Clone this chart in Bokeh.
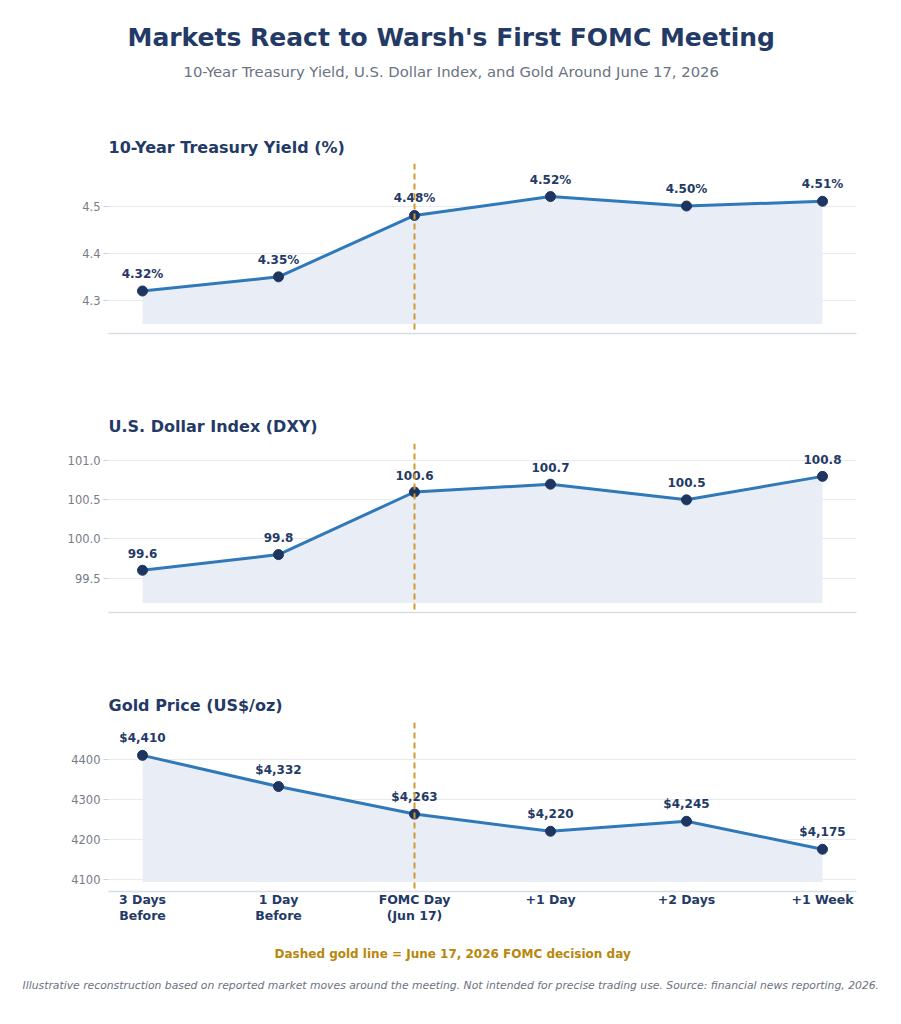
from bokeh.plotting import figure
from bokeh.models import ColumnDataSource, Span, Title, FixedTicker, NumeralTickFormatter, Range1d
from bokeh.layouts import column
from bokeh.embed import file_html
from bokeh.resources import INLINE

categories = ["3 Days\nBefore", "1 Day\nBefore", "FOMC Day\n(Jun 17)", "+1 Day", "+2 Days", "+1 Week"]
fomc_index = 2
yield_values = [4.32, 4.35, 4.48, 4.52, 4.50, 4.51]
yield_labels = ["4.32%", "4.35%", "4.48%", "4.52%", "4.50%", "4.51%"]
dxy_values = [99.6, 99.8, 100.6, 100.7, 100.5, 100.8]
dxy_labels = ["99.6", "99.8", "100.6", "100.7", "100.5", "100.8"]
gold_values = [4410, 4332, 4263, 4220, 4245, 4175]
gold_labels = ["$4,410", "$4,332", "$4,263", "$4,220", "$4,245", "$4,175"]
yield_ticks = [4.3, 4.4, 4.5]
dxy_ticks = [99.5, 100.0, 100.5, 101.0]
gold_ticks = [4100, 4200, 4300, 4400]

FONT = "DejaVu Sans"
NAVY = "#243a66"
LINE = "#2f78b9"
DOT = "#1e3560"
GRAY = "#6b7280"
TICKGRAY = "#777c87"
GOLD = "#cf9a32"

xs = list(range(len(categories)))


def spacer(size):
    return Title(text="\u00a0", text_font_size="1px", standoff=size)


def panel(title, values, labels, ticks, fmt, top, bottom, height, show_x, title_standoff=15):
    lo, hi = min(values), max(values)
    r = hi - lo
    base = lo - 0.35 * r
    p = figure(frame_width=748, frame_height=height, output_backend="svg", toolbar_location=None,
               x_range=Range1d(-0.25, len(categories) - 0.75),
               y_range=Range1d(lo - 0.45 * r, hi + 0.35 * r),
               min_border_left=108, min_border_right=45,
               min_border_top=top, min_border_bottom=bottom)
    p.outline_line_color = None
    p.background_fill_color = "white"
    p.border_fill_color = "white"
    if title is not None:
        p.title.text = title
        p.title.text_font = FONT
        p.title.text_font_size = "16px"
        p.title.text_font_style = "bold"
        p.title.text_color = NAVY
        p.title.standoff = title_standoff
    src = ColumnDataSource(dict(x=xs, y=values, base=[base] * len(xs), lab=labels))
    p.varea(x="x", y1="base", y2="y", source=src, fill_color="#e9eef6")
    p.line(x="x", y="y", source=src, line_color=LINE, line_width=3)
    p.text(x="x", y="y", text="lab", source=src, y_offset=-17, text_align="center",
           text_baseline="middle", text_font_size="12px", text_font_style="bold",
           text_color=NAVY, text_font={"value": FONT})
    p.add_layout(Span(location=fomc_index, dimension="height", line_color=GOLD,
                      line_width=2, line_dash="6 4"))
    p.scatter(x="x", y="y", source=src, size=10, fill_color=DOT, line_color=DOT)
    p.xgrid.visible = False
    p.ygrid.grid_line_color = "#e8eaee"
    p.yaxis.ticker = FixedTicker(ticks=ticks)
    p.yaxis.formatter = NumeralTickFormatter(format=fmt)
    p.yaxis.axis_line_color = None
    p.yaxis.minor_tick_line_color = None
    p.yaxis.major_tick_in = 0
    p.yaxis.major_tick_out = 5
    p.yaxis.major_tick_line_color = "#cfd3d9"
    p.yaxis.major_label_standoff = 3
    p.yaxis.major_label_text_font = FONT
    p.yaxis.major_label_text_font_size = "11.5px"
    p.yaxis.major_label_text_color = TICKGRAY
    p.xaxis.ticker = FixedTicker(ticks=xs)
    p.xaxis.axis_line_color = "#d9dde3"
    p.xaxis.axis_line_width = 1.5
    p.xaxis.major_tick_line_color = None
    p.xaxis.major_tick_in = 0
    p.xaxis.major_tick_out = 0
    p.xaxis.minor_tick_line_color = None
    if show_x:
        p.xaxis.major_label_overrides = {i: c for i, c in zip(xs, categories)}
        p.xaxis.major_label_text_font = FONT
        p.xaxis.major_label_text_font_size = "12.5px"
        p.xaxis.major_label_text_font_style = "bold"
        p.xaxis.major_label_text_color = NAVY
        p.xaxis.major_label_text_line_height = 1.1
        p.xaxis.major_label_standoff = 0
    else:
        p.xaxis.major_label_text_font_size = "0px"
        p.xaxis.major_label_text_color = None
    return p


# Panel 1: figure title holds the main heading (outermost), then subtitle, spacer, panel title
p1 = panel(None, yield_values, yield_labels, yield_ticks, "0.0", 163, 50, 170, False)
p1.title.text = "Markets React to Warsh's First FOMC Meeting"
p1.title.align = "left"
p1.title.offset = 19
p1.title.text_font = FONT
p1.title.text_font_size = "25px"
p1.title.text_font_style = "bold"
p1.title.text_color = NAVY
p1.title.standoff = 18
ptitle = Title(text="10-Year Treasury Yield (%)", align="left", text_font=FONT,
               text_font_size="16px", text_font_style="bold", text_color=NAVY, standoff=13)
sub = Title(text="10-Year Treasury Yield, U.S. Dollar Index, and Gold Around June 17, 2026",
            align="left", offset=75, text_font=FONT, text_font_size="14.8px",
            text_font_style="normal", text_color=GRAY, standoff=0)
p1.add_layout(ptitle, "above")
p1.add_layout(spacer(47), "above")
p1.add_layout(sub, "above")

p2 = panel("U.S. Dollar Index (DXY)", dxy_values, dxy_labels, dxy_ticks, "0.0", 60, 50, 169, False)
p3 = panel("Gold Price (US$/oz)", gold_values, gold_labels, gold_ticks, "0", 60, 133, 169, True)
note = Title(text="Dashed gold line = June 17, 2026 FOMC decision day", align="left", offset=166,
             text_font=FONT, text_font_size="12px", text_font_style="bold",
             text_color="#b8860b", standoff=0)
foot = Title(text="Illustrative reconstruction based on reported market moves around the meeting. "
                  "Not intended for precise trading use. Source: financial news reporting, 2026.",
             align="left", offset=-86, text_font=FONT, text_font_size="10.8px",
             text_font_style="italic", text_color=GRAY, standoff=0)
p3.add_layout(spacer(15), "below")
p3.add_layout(note, "below")
p3.add_layout(spacer(13), "below")
p3.add_layout(foot, "below")

layout = column(p1, p2, p3, spacing=0)
open("out.html", "w").write(file_html(layout, INLINE))
